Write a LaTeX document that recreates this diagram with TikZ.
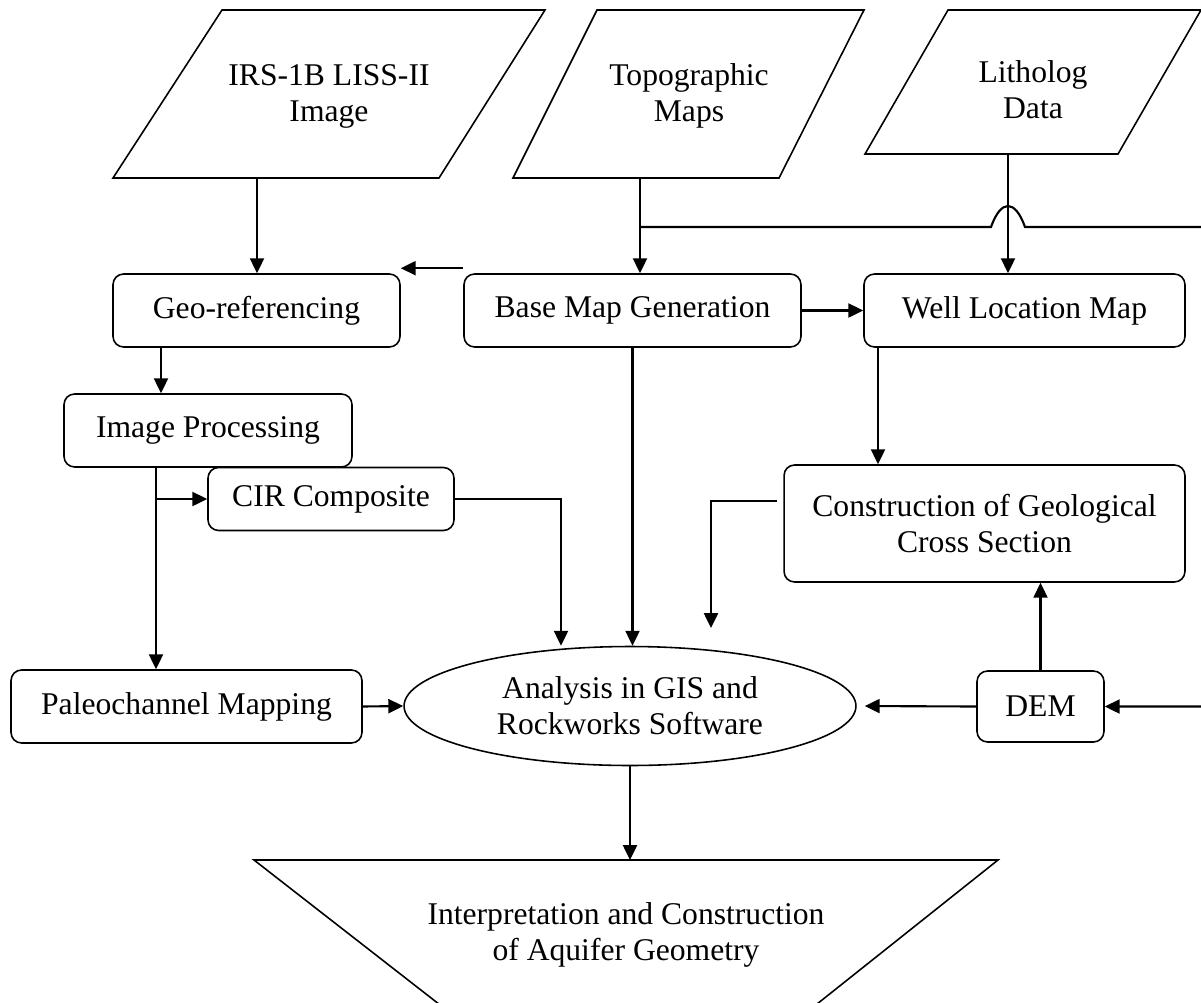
\documentclass[tikz,border=0pt]{standalone}
\usepackage{fontspec}
\setmainfont{Liberation Serif}
\usetikzlibrary{arrows.meta, shapes.geometric}

\tikzset{
  procbox/.style={draw, line width=0.9pt, rounded corners=6pt, align=center, inner sep=0pt},
  datashape/.style={line width=0.9pt},
  flowarr/.style={-{Triangle[length=8.5pt,width=8pt]}, line width=1.2pt},
}

\begin{document}
\begin{tikzpicture}[x=0.02cm, y=-0.02cm, font=\fontsize{18}{20.5}\selectfont]
  \useasboundingbox (0,0) rectangle (1201,1002);

  % input data
  \draw[datashape] (113,178) -- (222,10) -- (545,10) -- (439,178) -- cycle;
  \node[align=center] (irs) at (329,96) {IRS-1B LISS-II\\Image};
  \draw[datashape] (513,178) -- (597,10) -- (864,10) -- (779,178) -- cycle;
  \node[align=center] (topo) at (689,96) {Topographic\\Maps};
  \draw[datashape] (865,154) -- (948,10) -- (1201,10) -- (1118,154) -- cycle;
  \node[align=center] (litho) at (1033,90) {Litholog\\Data};

  % processing steps
  \node[procbox, minimum width=5.74cm, minimum height=1.46cm] (geo) at (256.5,310.5) {Geo-referencing};
  \node[procbox, minimum width=6.74cm, minimum height=1.46cm] (base) at (632.5,310.5) {Base Map Generation};
  \node[procbox, minimum width=6.42cm, minimum height=1.46cm] (well) at (1024.5,310.5) {Well Location Map};
  \node[procbox, minimum width=5.76cm, minimum height=1.46cm] (improc) at (208,430.5) {Image Processing};
  \node[procbox, minimum width=4.92cm, minimum height=1.26cm] (cir) at (331,499) {CIR Composite};
  \node[procbox, minimum width=8.02cm, minimum height=2.34cm] (constr) at (984.5,523.5) {Construction of Geological\\Cross Section};
  \node[procbox, minimum width=7.02cm, minimum height=1.46cm] (paleo) at (186.5,706.5) {Paleochannel Mapping};
  \node[procbox, minimum width=2.54cm, minimum height=1.42cm] (dem) at (1040.5,706.5) {DEM};
  \node[draw, ellipse, line width=0.9pt, minimum width=9.04cm, minimum height=2.38cm, inner sep=0pt, align=center] (ana) at (630,706) {Analysis in GIS and\\Rockworks Software};

  % output
  \draw[datashape] (444,1008) -- (254,860) -- (998,860) -- (812,1008);
  \node[align=center] (interp) at (626,935) {Interpretation and Construction\\of Aquifer Geometry};
  \coordinate (traptop) at (630,860);

  % connectors
  \coordinate (irsb) at (257,178);
  \coordinate (topob) at (640,178);
  \coordinate (lithob) at (1008,154);
  \coordinate (hop) at (640,227);
  \coordinate (rim) at (1215,227);
  \coordinate (gx) at (161,0);
  \coordinate (ix) at (156,0);
  \coordinate (cx) at (561,0);
  \coordinate (wx) at (878,0);
  \coordinate (cs) at (777,501);
  \coordinate (csend) at (711,628);

  \draw[flowarr] (irsb) -- (irsb |- geo.north);
  \draw[flowarr] (topob) -- (topob |- base.north);
  \draw[flowarr] (lithob) -- (lithob |- well.north);
  \draw[flowarr] (hop) -- (991,227) .. controls (1001,199) and (1015,199) .. (1025,227) -- (rim) |- (dem.east);
  \draw[flowarr] ([yshift=0.1cm]base.north west) -- ([yshift=0.1cm]geo.north east);
  \draw[flowarr] (base.east) -- (well.west);
  \draw[flowarr] (gx |- geo.south) -- (gx |- improc.north);
  \draw[flowarr] (ix |- improc.south) -- (ix |- paleo.north);
  \draw[flowarr] (ix |- cir.west) -- (cir.west);
  \draw[flowarr] (cir.east) -| (cx |- ana.north);
  \draw[flowarr] (base.south) -- (base.south |- ana.north);
  \draw[flowarr] (wx |- well.south) -- (wx |- constr.north);
  \draw[flowarr] (cs) -| (csend);
  \draw[flowarr] (dem.north) -- (dem.north |- constr.south);
  \draw[flowarr, shorten >=0.16cm] (dem.west) -- (ana.east);
  \draw[flowarr] (paleo.east) -- (ana.west);
  \draw[flowarr] (ana.south) -- (traptop);
\end{tikzpicture}
\end{document}
